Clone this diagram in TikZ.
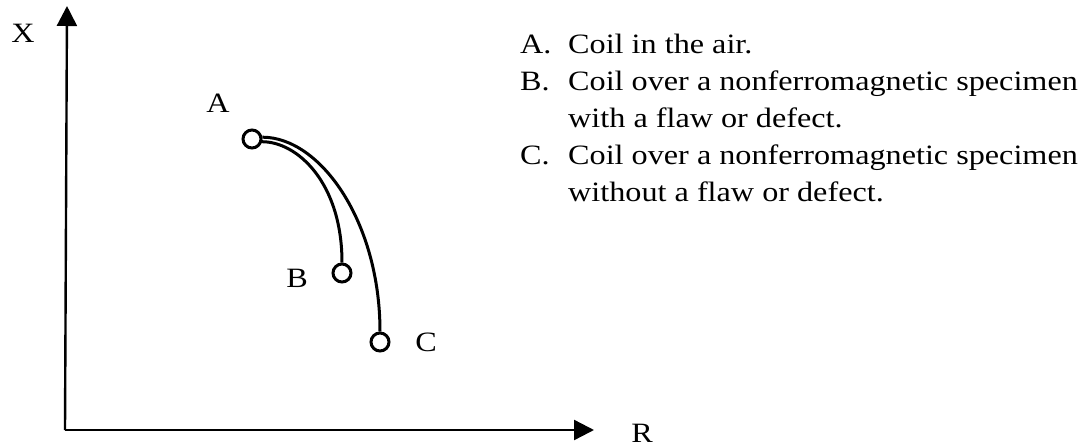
\documentclass[tikz,border=0pt]{standalone}
\usepackage{fontspec}
\setmainfont{Liberation Serif}[FakeStretch=1.15]
\usetikzlibrary{arrows.meta}
\begin{document}
\begin{tikzpicture}[x=1pt,y=-1pt,
  every node/.style={font=\fontsize{28}{34}\selectfont, inner sep=0pt},
  axisline/.style={line width=2.4pt, -{Triangle[length=20pt,width=20pt]}},
  pt/.style={circle, draw, line width=3pt, fill=white, minimum size=18pt},
  curve/.style={line width=3pt},
  lbl/.style={anchor=base west},
]
\useasboundingbox (0,0) rectangle (1087,447);
% axes
\coordinate (O) at (65,430);
\coordinate (Ytip) at (67,6);
\coordinate (Xtip) at (594,430);
\draw[axisline] (O) -- (Ytip);
\draw[axisline] (O) -- (Xtip);
\node (X) at (23,33) {X};
\node (R) at (642,433) {R};
% points
\node[pt] (A) at (252,139) {};
\node[pt] (B) at (342,273) {};
\node[pt] (C) at (380,342) {};
\node (la) at (218,103) {A};
\node (lb) at (297,278) {B};
\node (lc) at (426,342) {C};
% curves
\draw[curve] (A.10) .. controls +(58,0) and +(0,-110) .. (C.north);
\draw[curve] (A.-15) .. controls +(35,0) and +(0,-80) .. (B.north);
% legend
\node[lbl] (ta) at (520,53) {A.};
\node[lbl] (t1) at (568,53) {Coil in the air.};
\node[lbl] (tb) at (520,90) {B.};
\node[lbl] (t2) at (568,90) {Coil over a nonferromagnetic specimen};
\node[lbl] (t3) at (568,127) {with a flaw or defect.};
\node[lbl] (tc) at (520,164) {C.};
\node[lbl] (t4) at (568,164) {Coil over a nonferromagnetic specimen};
\node[lbl] (t5) at (568,201) {without a flaw or defect.};
\end{tikzpicture}
\end{document}
